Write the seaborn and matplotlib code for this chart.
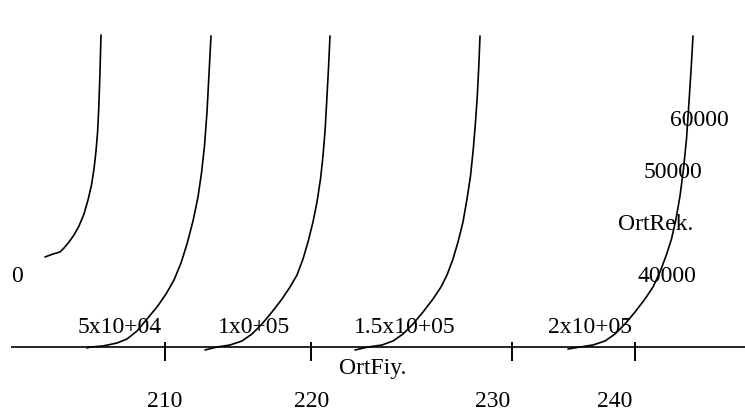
import pandas as pd
import matplotlib.pyplot as plt
import seaborn as sns

# Curve traces: x along OrtFiy., y = height above the axis line
curve_a_x = [45, 53, 60, 64, 69, 74, 79, 84, 88, 91.5, 94, 96, 97.6, 98.8,
             99.9, 101]
curve_a_y = [90, 93, 95, 99, 105, 112, 121, 133, 147, 162, 178, 196, 215,
             240, 272, 312]

curve_b_x = [87, 90, 103, 117, 127, 137, 147, 157, 166, 174, 181, 187, 193,
             198, 201.5, 204.5, 207, 209, 211]
curve_b_y = [-1, 0, 1, 4, 8, 16, 28, 40, 53, 67, 84, 103, 126,
             150, 174, 201, 235, 273, 311]

curve_c_x = [205, 217, 230, 242, 252, 262, 272, 282, 290, 297, 303, 308, 313,
             317, 320.5, 323, 325.2, 327, 328.6, 330]
curve_c_y = [-3, 0, 2, 6, 13, 23, 35, 48, 60, 72, 88, 105, 125,
             145, 168, 191, 218, 251, 281, 311]

curve_d_x = [355, 368, 382, 393, 403, 413, 423, 433, 441, 447, 453, 458, 463,
             467, 470.5, 473.3, 475.5, 477.3, 478.8, 480]
curve_d_y = [-3, 0, 2, 6, 13, 23, 35, 48, 60, 72, 88, 105, 125,
             148, 171, 198, 225, 251, 281, 311]

curve_e_x = [568, 580, 593, 605, 615, 625, 635, 645, 653, 660, 666, 671.5,
             676, 680, 683.5, 686.5, 689, 691.3, 693]
curve_e_y = [-2, 0, 2, 6, 13, 23, 35, 48, 60, 75, 91, 108, 128,
             151, 178, 208, 245, 281, 311]

# Axis ticks and their labels
tick_x = [165, 311, 512, 635]
tick_labels = ["210", "220", "230", "240"]
tick_label_x = [165, 312, 493, 615]

# Value labels strewn over the plot
value_labels = ["0", "5x10+04", "1x0+05", "1.5x10+05", "2x10+05",
                "60000", "50000", "40000"]
value_label_x = [17, 120, 254, 405, 590, 699, 673, 667]
value_label_y = [66, 15, 15, 15, 15, 222, 170, 66]

x_title = "OrtFiy."
y_title = "OrtRek."


def build_frame():
    """Collect the curve traces into one long-form table."""
    parts = []
    traces = [(curve_a_x, curve_a_y), (curve_b_x, curve_b_y),
              (curve_c_x, curve_c_y), (curve_d_x, curve_d_y),
              (curve_e_x, curve_e_y)]
    for i, (xs, ys) in enumerate(traces):
        parts.append(pd.DataFrame({"x": xs, "y": ys, "curve": i}))
    return pd.concat(parts, ignore_index=True)


def main():
    sns.set_style("white")
    plt.rcParams['font.family'] = ['Liberation Serif', 'DejaVu Serif']
    plt.rcParams['text.color'] = 'black'

    df = build_frame()

    fig = plt.figure(figsize=(7.45, 4.14), dpi=100)
    ax = fig.add_axes([0, 0, 1, 1])

    # Draw each curve as its own black line
    for key, grp in df.groupby("curve"):
        sns.lineplot(data=grp, x="x", y="y", sort=False, estimator=None,
                     color="black", linewidth=1.2, ax=ax)

    # Horizontal axis line with its ticks
    ax.hlines(0, 11, 745, color="black", linewidth=1.2)
    ax.vlines(tick_x, -14, 5, color="black", linewidth=1.4)

    fs = 17
    for lab, x in zip(tick_labels, tick_label_x):
        ax.text(x, -59, lab, ha="center", va="baseline", fontsize=fs,
                color="black")
    for lab, x, y in zip(value_labels, value_label_x, value_label_y):
        ax.text(x, y, lab, ha="center", va="baseline", fontsize=fs,
                color="black")
    ax.text(373, -26, x_title, ha="center", va="baseline", fontsize=fs,
            color="black")
    ax.text(656, 118, y_title, ha="center", va="baseline", fontsize=fs,
            color="black")

    ax.set_xlim(0, 745)
    ax.set_ylim(-66, 348)
    ax.axis("off")
    if ax.get_legend() is not None:
        ax.get_legend().remove()

    fig.savefig("out.png", dpi=100)


if __name__ == "__main__":
    main()
